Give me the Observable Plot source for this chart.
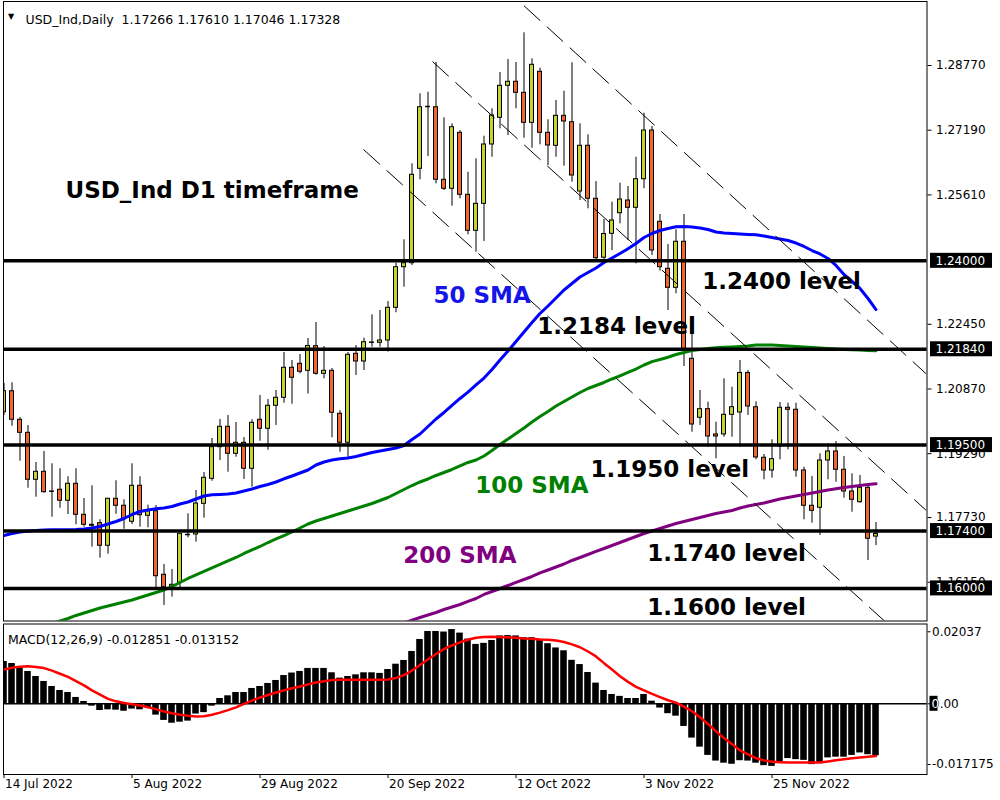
<!DOCTYPE html>
<html><head><meta charset="utf-8">
<script src="https://cdn.jsdelivr.net/npm/d3@7"></script>
<script src="https://cdn.jsdelivr.net/npm/@observablehq/plot@0.6"></script>
<style>
html,body{margin:0;padding:0;background:#fff;overflow:hidden;}
#wrap{position:relative;width:1000px;height:800px;background:#fff;}
#main,#macd{position:absolute;left:0;}
#main{top:0;} #macd{top:622px;}
svg text{white-space:pre;}
</style></head>
<body><div id="wrap"><div id="main"></div><div id="macd"></div></div>
<script>
// ---------- data ----------
const header = "USD_Ind,Daily\u00a0\u00a01.17266 1.17610 1.17046 1.17328";
const macdTitle = "MACD(12,26,9) -0.012851 -0.013152";
const xTickIdx = [0, 16, 32, 48, 64, 80, 96];
const xTickLabels = ["14 Jul 2022", "5 Aug 2022", "29 Aug 2022", "20 Sep 2022", "12 Oct 2022", "3 Nov 2022", "25 Nov 2022"];
const yTicks = [1.28770, 1.27190, 1.25610, 1.22450, 1.20870, 1.19290, 1.17730, 1.16150];
const levels = [1.24000, 1.21840, 1.19500, 1.17400, 1.16000];
const macdTicks = [0.02037, 0, -0.017175];
const macdTickLabels = ["0.02037", "0.00", "-0.017175"];

const open = [1.20303,1.20816,1.20118,1.19800,1.18653,1.18848,1.18374,1.18408,1.18140,1.18555,
1.17798,1.17554,1.17593,1.17041,1.18189,1.18018,1.17627,1.18506,1.17773,1.17886,
1.16333,1.16030,1.16137,1.17317,1.17317,1.18066,1.18677,1.19449,1.19947,1.19287,
1.19556,1.18921,1.20118,1.19898,1.20460,1.20655,1.21388,1.21485,1.21314,1.21915,
1.21241,1.21314,1.20264,1.19556,1.21729,1.21541,1.22013,1.21998,1.22054,1.22853,
1.23844,1.23942,1.26247,1.27769,1.27751,1.25979,1.25759,1.27126,1.25612,1.24733,
1.25392,1.26841,1.27493,1.28274,1.28372,1.28103,1.27370,1.28616,1.27126,1.26809,
1.27541,1.27385,1.25693,1.26809,1.25515,1.24076,1.24660,1.25163,1.25473,1.25295,
1.25993,1.27182,1.24953,1.23805,1.23341,1.24465,1.21607,1.20167,1.20377,1.19759,
1.19759,1.20240,1.20296,1.21261,1.20425,1.19190,1.18880,1.19466,1.20411,1.20362,
1.18880,1.18018,1.17969,1.19124,1.19344,1.18897,1.18367,1.18106,1.18457,1.17266];
const high = [1.21004,1.21021,1.20174,1.19979,1.19075,1.19344,1.19043,1.18921,1.18726,1.18921,
1.18196,1.18506,1.17676,1.18200,1.18628,1.18164,1.19043,1.18726,1.18032,1.18025,
1.16584,1.16462,1.17334,1.17822,1.18391,1.18831,1.19661,1.20125,1.20223,1.20052,
1.19686,1.20118,1.20711,1.20613,1.20833,1.21761,1.21566,1.21712,1.22103,1.22494,
1.21908,1.21370,1.20338,1.21761,1.21932,1.22110,1.22682,1.22787,1.23007,1.23942,
1.24513,1.26369,1.28079,1.28118,1.28843,1.27493,1.27346,1.27182,1.26164,1.26491,
1.27043,1.27712,1.28599,1.28916,1.28843,1.29568,1.28933,1.28704,1.27444,1.27915,
1.28142,1.28836,1.27346,1.27077,1.25937,1.25009,1.25432,1.25896,1.25815,1.26530,
1.27605,1.27280,1.25131,1.24399,1.24758,1.25131,1.22257,1.20833,1.20548,1.20059,
1.21119,1.20914,1.21566,1.21322,1.20557,1.19270,1.19629,1.20540,1.20523,1.20523,
1.18960,1.18733,1.19287,1.19532,1.19588,1.19222,1.18799,1.18758,1.18538,1.17610];
const low = [1.20223,1.19961,1.19107,1.18447,1.18228,1.18325,1.17739,1.17959,1.17805,1.17554,
1.17495,1.17007,1.16738,1.16836,1.17812,1.17446,1.17561,1.17495,1.17480,1.15974,
1.15583,1.15786,1.16000,1.17236,1.17129,1.17715,1.18618,1.19124,1.18838,1.19204,
1.18660,1.18472,1.19595,1.19375,1.19979,1.20523,1.20499,1.21241,1.20748,1.21207,
1.21119,1.19678,1.19327,1.19165,1.21200,1.21322,1.21891,1.21891,1.21769,1.22731,
1.23356,1.23886,1.25979,1.26548,1.25881,1.25717,1.25334,1.25515,1.24635,1.24211,
1.24472,1.26530,1.27224,1.27060,1.27712,1.26994,1.26750,1.26833,1.26328,1.26530,
1.26311,1.25920,1.25473,1.25270,1.24010,1.24008,1.24252,1.24904,1.24496,1.23927,
1.25759,1.24130,1.23747,1.22787,1.23195,1.21419,1.19815,1.19979,1.19449,1.19165,
1.19693,1.19693,1.19449,1.20223,1.19143,1.18653,1.18692,1.19141,1.19385,1.18716,
1.17676,1.17593,1.17292,1.18653,1.18594,1.18203,1.17861,1.18082,1.16682,1.17046];
const close = [1.20816,1.20118,1.19800,1.18653,1.18848,1.18350,1.18374,1.18140,1.18555,1.17798,
1.17554,1.17529,1.17041,1.18189,1.18018,1.17690,1.18506,1.17788,1.17886,1.16298,
1.16030,1.16088,1.17334,1.17317,1.18074,1.18701,1.19449,1.19947,1.19287,1.19556,
1.18921,1.20044,1.19898,1.20460,1.20655,1.21388,1.21143,1.21290,1.21920,1.21241,
1.21314,1.20289,1.19556,1.21705,1.21541,1.22013,1.22013,1.22054,1.22853,1.23844,
1.23942,1.26101,1.27751,1.27769,1.25979,1.25759,1.27263,1.25612,1.24733,1.25392,
1.26841,1.27549,1.28274,1.28372,1.28103,1.27370,1.28787,1.27126,1.26816,1.27541,
1.27402,1.26084,1.26809,1.25515,1.24064,1.24655,1.24985,1.25497,1.25295,1.25993,
1.27182,1.24252,1.23844,1.23341,1.24465,1.21810,1.20003,1.20377,1.19710,1.19710,
1.20240,1.20425,1.21261,1.20443,1.19197,1.18880,1.19156,1.20411,1.20362,1.18880,
1.18018,1.17895,1.19124,1.19344,1.18897,1.18367,1.18164,1.18457,1.17212,1.17328];

const sma50 = [1.17292,1.17341,1.17378,1.17402,1.17414,1.17427,1.17431,1.17431,1.17434,1.17439,
1.17451,1.17475,1.17512,1.17573,1.17634,1.17707,1.17805,1.17878,1.17915,1.17944,
1.17964,1.18000,1.18062,1.18110,1.18184,1.18257,1.18286,1.18294,1.18306,1.18330,
1.18379,1.18428,1.18489,1.18538,1.18599,1.18677,1.18745,1.18819,1.18892,1.19014,
1.19087,1.19136,1.19165,1.19185,1.19222,1.19270,1.19319,1.19356,1.19392,1.19429,
1.19490,1.19637,1.19771,1.19954,1.20137,1.20296,1.20467,1.20638,1.20792,1.20968,
1.21138,1.21346,1.21578,1.21798,1.22030,1.22262,1.22494,1.22714,1.22897,1.23092,
1.23287,1.23446,1.23605,1.23715,1.23825,1.23959,1.24069,1.24179,1.24294,1.24423,
1.24570,1.24667,1.24740,1.24789,1.24831,1.24838,1.24826,1.24801,1.24765,1.24704,
1.24679,1.24667,1.24655,1.24643,1.24635,1.24606,1.24570,1.24533,1.24496,1.24435,
1.24350,1.24252,1.24167,1.24057,1.23886,1.23666,1.23495,1.23324,1.23080,1.22811];
const sma100 = [null,null,null,null,null,null,
1.15143,1.15204,1.15265,1.15339,1.15400,1.15461,1.15522,1.15571,1.15620,1.15668,
1.15717,1.15778,1.15839,1.15900,1.15961,1.16047,1.16145,1.16242,1.16328,1.16413,
1.16499,1.16584,1.16670,1.16755,1.16853,1.16938,1.17024,1.17121,1.17207,1.17292,
1.17378,1.17475,1.17573,1.17646,1.17707,1.17769,1.17830,1.17891,1.17952,1.18013,
1.18074,1.18147,1.18220,1.18318,1.18416,1.18513,1.18599,1.18672,1.18758,1.18831,
1.18904,1.18990,1.19075,1.19136,1.19234,1.19368,1.19515,1.19649,1.19783,1.19917,
1.20064,1.20198,1.20320,1.20455,1.20565,1.20675,1.20784,1.20882,1.20955,1.21029,
1.21114,1.21192,1.21273,1.21358,1.21456,1.21537,1.21590,1.21646,1.21712,1.21761,
1.21810,1.21834,1.21859,1.21876,1.21888,1.21898,1.21908,1.21920,1.21944,1.21944,
1.21944,1.21932,1.21920,1.21908,1.21896,1.21883,1.21871,1.21859,1.21847,1.21834,
1.21827,1.21820,1.21810,1.21803];
const sma200Start = 50;
const sma200 = [1.15156,1.15224,1.15290,1.15351,1.15412,1.15485,1.15546,1.15607,1.15681,1.15754,
1.15852,1.15925,1.15998,1.16071,1.16145,1.16218,1.16291,1.16377,1.16450,1.16523,
1.16596,1.16682,1.16755,1.16828,1.16902,1.16975,1.17048,1.17121,1.17195,1.17268,
1.17341,1.17402,1.17463,1.17524,1.17585,1.17634,1.17683,1.17732,1.17781,1.17830,
1.17866,1.17903,1.17964,1.18013,1.18049,1.18086,1.18135,1.18184,1.18220,1.18257,
1.18294,1.18330,1.18367,1.18403,1.18433,1.18465,1.18489,1.18513,1.18538,1.18555];

const macdHist = [0.01197,0.0114,0.0101,0.00915,0.00773,0.00632,0.0049,0.00377,0.0032,0.0018,
0.00066,-0.00066,-0.0019,-0.0017,-0.0018,-0.0021,-0.0015,-0.0017,-0.0011,-0.0032,
-0.0047,-0.0055,-0.0052,-0.0049,-0.0029,-0.0025,-0.00066,0.0015,0.00226,0.0032,
0.0032,0.00434,0.0049,0.00575,0.0066,0.0080,0.0087,0.00915,0.0100,0.0100,
0.0100,0.00877,0.00726,0.00773,0.0082,0.00877,0.00877,0.0086,0.0097,0.0112,
0.01226,0.0148,0.0182,0.02046,0.02046,0.0203,0.0210,0.0200,0.0183,0.0168,
0.0171,0.0179,0.0192,0.0193,0.0192,0.0187,0.0187,0.0179,0.0170,0.0158,
0.0150,0.0123,0.0111,0.00886,0.00585,0.00377,0.00264,0.0021,0.0015,0.0015,
0.00264,0.00075,-0.0012,-0.0028,-0.0035,-0.0064,-0.0097,-0.01226,-0.0146,-0.0162,
-0.0168,-0.0171,-0.0161,-0.0162,-0.0168,-0.0175,-0.0177,-0.0165,-0.0155,-0.0158,
-0.0160,-0.0172,-0.0167,-0.0153,-0.0151,-0.0151,-0.0146,-0.0139,-0.0144,-0.0147];
const macdSignal = [0.0097,0.0102,0.0105,0.0106,0.0104,0.0101,0.0094,0.0085,0.0076,0.0064,
0.0052,0.0038,0.0026,0.0014,0.0007,0.0002,-0.0001,-0.0005,-0.0010,-0.0015,
-0.0022,-0.0027,-0.0031,-0.0034,-0.0036,-0.0035,-0.0031,-0.0025,-0.0018,-0.0010,
0.0000,0.0009,0.0018,0.0025,0.0032,0.0038,0.0044,0.0049,0.0055,0.0060,
0.0064,0.0067,0.0068,0.0068,0.0068,0.0068,0.0068,0.0068,0.0069,0.0073,
0.0081,0.0094,0.0110,0.0126,0.0141,0.0155,0.0165,0.0174,0.0181,0.0187,
0.0189,0.0190,0.0189,0.0188,0.0187,0.0185,0.0184,0.0182,0.0181,0.0179,
0.0175,0.0168,0.0160,0.0148,0.0134,0.0115,0.0097,0.0078,0.0062,0.0048,
0.0038,0.0028,0.0019,0.0010,0.0003,-0.0008,-0.0021,-0.0038,-0.0057,-0.0078,
-0.0097,-0.0114,-0.0132,-0.0143,-0.0154,-0.0160,-0.0164,-0.0165,-0.0166,-0.0166,
-0.0166,-0.0166,-0.0166,-0.0163,-0.0160,-0.0157,-0.0154,-0.0152,-0.0150,-0.0148];

// trend channel lines: start / end (bar index, price)
const trendStartIdx = [65, 53.56, 44.94];
const trendStartPrice = [1.30228, 1.28867, 1.26718];
const trendEndIdx = [115.25, 115.25, 110.13];
const trendEndPrice = [1.21244, 1.17910, 1.15192];

// annotations
const noteText = ["USD_Ind D1 timeframe", "50 SMA", "1.2400 level", "1.2184 level", "100 SMA", "1.1950 level", "200 SMA", "1.1740 level", "1.1600 level"];
const noteIdx = [7.69, 53.69, 87.27, 66.65, 58.9, 73.31, 49.91, 80.4, 80.4];
const notePrice = [1.25546, 1.22982, 1.23324, 1.22225, 1.18318, 1.18709, 1.16621, 1.16670, 1.15339];
const noteColor = ["#000000", "#1515e8", "#000000", "#000000", "#008000", "#000000", "#800080", "#000000", "#000000"];

// ---------- build ----------
const BULL = "#c5d32e", BEAR = "#f1662a";
const candles = open.map((o, i) => ({i, o, h: high[i], l: low[i], c: close[i]}));
const bulls = candles.filter(d => d.c > d.o);
const bears = candles.filter(d => d.c < d.o);
const dojis = candles.filter(d => d.c === d.o);
const ma50 = sma50.map((v, i) => ({i, v}));
const ma100 = sma100.map((v, i) => ({i, v})).filter(d => d.v != null);
const ma200 = sma200.map((v, k) => ({i: k + sma200Start, v}));
const trends = trendStartIdx.map((s, k) => ({i1: s, p1: trendStartPrice[k], i2: trendEndIdx[k], p2: trendEndPrice[k]}));
const notes = noteText.map((t, k) => ({t, i: noteIdx[k], p: notePrice[k], c: noteColor[k]}));
const hist = macdHist.map((v, i) => ({i, v}));
const sig = macdSignal.map((v, i) => ({i, v}));
const xt = xTickIdx.map((i, k) => ({i, t: xTickLabels[k]}));

const FONT = "DejaVu Sans";
const xDomain = [-0.0625, 115.375];
const fmt5 = d3.format(".5f");

const main = Plot.plot({
  width: 1000, height: 622,
  marginLeft: 3, marginRight: 73.5, marginTop: 1, marginBottom: 1.5,
  style: {fontFamily: FONT, fontSize: "12px", color: "#000", background: "#fff", overflow: "visible"},
  x: {type: "linear", domain: xDomain, axis: null},
  y: {type: "linear", domain: [1.15204, 1.30333], axis: "right", ticks: yTicks, tickFormat: fmt5, tickSize: 4, tickPadding: 5, label: null},
  marks: [
    Plot.ruleX(candles, {x: "i", y1: "l", y2: "h", stroke: "#000", strokeWidth: 1, clip: true}),
    Plot.rect(bulls, {x1: d => d.i - 0.25, x2: d => d.i + 0.25, y1: "o", y2: "c", fill: BULL, stroke: "#000", strokeWidth: 1, clip: true}),
    Plot.rect(bears, {x1: d => d.i - 0.25, x2: d => d.i + 0.25, y1: "o", y2: "c", fill: BEAR, stroke: "#000", strokeWidth: 1, clip: true}),
    Plot.ruleY(dojis, {y: "c", x1: d => d.i - 0.3, x2: d => d.i + 0.3, stroke: "#000", strokeWidth: 1.5, clip: true}),
    Plot.line(ma100, {x: "i", y: "v", stroke: "#008000", strokeWidth: 3, clip: true}),
    Plot.line(ma200, {x: "i", y: "v", stroke: "#800080", strokeWidth: 3, clip: true}),
    Plot.line(ma50, {x: "i", y: "v", stroke: "#0000ff", strokeWidth: 3, clip: true}),
    Plot.link(trends, {x1: "i1", y1: "p1", x2: "i2", y2: "p2", stroke: "#000", strokeWidth: 1, strokeDasharray: "22,9", clip: true}),
    Plot.ruleY(levels, {y: d => d, stroke: "#000", strokeWidth: 3.5}),
    Plot.text(notes, {x: "i", y: "p", text: "t", fill: "c", fontFamily: FONT, fontSize: 23, fontWeight: "bold", textAnchor: "start", lineAnchor: "bottom"}),
    Plot.text(["\u25BC"], {frameAnchor: "top-left", dx: 4.5, dy: 12, fontSize: 8, textAnchor: "start", fill: "#000"}),
    Plot.text([header], {frameAnchor: "top-left", dx: 22, dy: 13.5, fontSize: 12.5, textAnchor: "start", fill: "#000"}),
    Plot.frame({stroke: "#000", strokeWidth: 1})
  ]
});
document.getElementById("main").appendChild(main);

function pix(chart, name, v) {
  const s = chart.scale(name);
  return s.range[0] + (v - s.domain[0]) / (s.domain[1] - s.domain[0]) * (s.range[1] - s.range[0]);
}
const gm = d3.select(main).append("g").attr("text-anchor", "start");
levels.forEach(v => {
  const y = pix(main, "y", v);
  gm.append("rect").attr("x", 930).attr("y", y - 7.5).attr("width", 62).attr("height", 15).attr("fill", "#000");
  gm.append("text").attr("x", 935.5).attr("y", y).attr("dy", "0.36em").attr("fill", "#fff")
    .attr("text-anchor", "start").attr("font-family", FONT).attr("font-size", 12).text(fmt5(v));
});

const macd = Plot.plot({
  width: 1000, height: 178,
  marginLeft: 3, marginRight: 73.5, marginTop: 1.5, marginBottom: 26,
  style: {fontFamily: FONT, fontSize: "12px", color: "#000", background: "#fff", overflow: "visible"},
  x: {type: "linear", domain: xDomain, axis: "bottom", ticks: xTickIdx, tickFormat: () => "", tickSize: 4, label: null},
  y: {type: "linear", domain: [-0.0200, 0.022574], axis: "right", ticks: macdTicks, tickFormat: d => macdTickLabels[macdTicks.indexOf(d)], tickSize: 3, tickPadding: 2, label: null},
  marks: [
    Plot.rect(hist, {x1: d => d.i - 0.41, x2: d => d.i + 0.41, y1: 0, y2: "v", fill: "#000", clip: true}),
    Plot.ruleY([0], {stroke: "#000", strokeWidth: 1.5}),
    Plot.line(sig, {x: "i", y: "v", stroke: "#ff0000", strokeWidth: 2.5, clip: true}),
    Plot.text([macdTitle], {frameAnchor: "top-left", dx: 4.5, dy: 11, fontSize: 12.5, textAnchor: "start", fill: "#000"}),
    Plot.text(xt, {x: "i", text: "t", frameAnchor: "bottom", dy: 13, dx: 1, textAnchor: "start", fontSize: 12, fill: "#000"}),
    Plot.frame({stroke: "#000", strokeWidth: 1})
  ]
});
document.getElementById("macd").appendChild(macd);
const g2 = d3.select(macd).append("g").attr("text-anchor", "start");
const y0 = pix(macd, "y", 0);
g2.append("rect").attr("x", 929.5).attr("y", y0 - 7.5).attr("width", 8).attr("height", 15).attr("fill", "#000");
g2.append("text").attr("x", 931.5).attr("y", y0).attr("dy", "0.36em").attr("fill", "#fff")
  .attr("text-anchor", "start").attr("font-family", FONT).attr("font-size", 12).text("0");
</script>
</body></html>
